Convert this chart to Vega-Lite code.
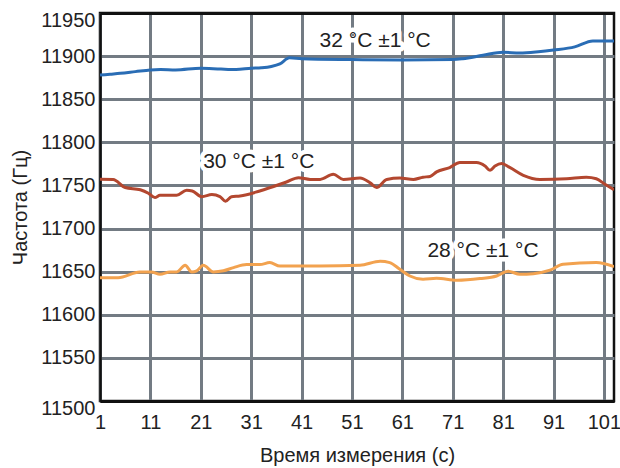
{
  "$schema": "https://vega.github.io/schema/vega-lite/v6.json",
  "width": 514,
  "height": 388,
  "autosize": {"type": "none"},
  "padding": {"left": 100, "top": 13, "right": 6, "bottom": 67},
  "background": "white",
  "config": {
    "font": "Liberation Sans",
    "view": {"stroke": "#111111", "strokeWidth": 2.5},
    "axis": {
      "gridColor": "#737b83",
      "gridWidth": 3,
      "gridOpacity": 1,
      "domainColor": "#111111",
      "domainWidth": 2.5,
      "ticks": false,
      "labelFont": "Liberation Sans",
      "labelFontSize": 20,
      "labelColor": "#222222",
      "titleFont": "Liberation Sans",
      "titleFontSize": 20,
      "titleFontWeight": "normal",
      "titleColor": "#222222"
    }
  },
  "datasets": {
    "lines": [
      {"t": 1, "f": 11878, "s": "32"},
      {"t": 3, "f": 11879, "s": "32"},
      {"t": 5, "f": 11880, "s": "32"},
      {"t": 8, "f": 11882, "s": "32"},
      {"t": 11, "f": 11884, "s": "32"},
      {"t": 13, "f": 11884.5, "s": "32"},
      {"t": 16, "f": 11884, "s": "32"},
      {"t": 21, "f": 11886, "s": "32"},
      {"t": 25, "f": 11885, "s": "32"},
      {"t": 28, "f": 11884.5, "s": "32"},
      {"t": 31, "f": 11886, "s": "32"},
      {"t": 33, "f": 11886.5, "s": "32"},
      {"t": 35, "f": 11888, "s": "32"},
      {"t": 36.7, "f": 11891, "s": "32"},
      {"t": 38.6, "f": 11898, "s": "32"},
      {"t": 41, "f": 11897, "s": "32"},
      {"t": 51, "f": 11896, "s": "32"},
      {"t": 61, "f": 11895.5, "s": "32"},
      {"t": 71, "f": 11896, "s": "32"},
      {"t": 73, "f": 11897, "s": "32"},
      {"t": 77, "f": 11901, "s": "32"},
      {"t": 81, "f": 11904.5, "s": "32"},
      {"t": 84.3, "f": 11903.5, "s": "32"},
      {"t": 88, "f": 11905, "s": "32"},
      {"t": 91, "f": 11907, "s": "32"},
      {"t": 95.2, "f": 11910.7, "s": "32"},
      {"t": 98.8, "f": 11917.6, "s": "32"},
      {"t": 103, "f": 11917.6, "s": "32"},

      {"t": 1, "f": 11757.2, "s": "30"},
      {"t": 3.6, "f": 11757, "s": "30"},
      {"t": 6, "f": 11747.6, "s": "30"},
      {"t": 9, "f": 11745, "s": "30"},
      {"t": 10.6, "f": 11741, "s": "30"},
      {"t": 11.9, "f": 11736, "s": "30"},
      {"t": 12.9, "f": 11738.6, "s": "30"},
      {"t": 16.2, "f": 11738.6, "s": "30"},
      {"t": 18.2, "f": 11744.4, "s": "30"},
      {"t": 19.3, "f": 11743.6, "s": "30"},
      {"t": 21.2, "f": 11737, "s": "30"},
      {"t": 23.2, "f": 11739.4, "s": "30"},
      {"t": 24.8, "f": 11737, "s": "30"},
      {"t": 25.9, "f": 11731.7, "s": "30"},
      {"t": 27.1, "f": 11737, "s": "30"},
      {"t": 28.8, "f": 11737.8, "s": "30"},
      {"t": 32.7, "f": 11743.6, "s": "30"},
      {"t": 38, "f": 11754, "s": "30"},
      {"t": 40.4, "f": 11759, "s": "30"},
      {"t": 42.7, "f": 11757, "s": "30"},
      {"t": 44.7, "f": 11757, "s": "30"},
      {"t": 47.3, "f": 11763, "s": "30"},
      {"t": 49.3, "f": 11757, "s": "30"},
      {"t": 52.6, "f": 11758.6, "s": "30"},
      {"t": 54.6, "f": 11753, "s": "30"},
      {"t": 55.9, "f": 11747.6, "s": "30"},
      {"t": 57.9, "f": 11757, "s": "30"},
      {"t": 60.5, "f": 11758.6, "s": "30"},
      {"t": 63.2, "f": 11757, "s": "30"},
      {"t": 65.1, "f": 11759.6, "s": "30"},
      {"t": 66.5, "f": 11760.4, "s": "30"},
      {"t": 67.8, "f": 11765.7, "s": "30"},
      {"t": 70.4, "f": 11770.8, "s": "30"},
      {"t": 72.4, "f": 11776.6, "s": "30"},
      {"t": 75.7, "f": 11776.6, "s": "30"},
      {"t": 77.4, "f": 11772.6, "s": "30"},
      {"t": 78.4, "f": 11767.6, "s": "30"},
      {"t": 79.4, "f": 11772.6, "s": "30"},
      {"t": 80.7, "f": 11775.4, "s": "30"},
      {"t": 82.3, "f": 11771, "s": "30"},
      {"t": 85, "f": 11761.8, "s": "30"},
      {"t": 88.3, "f": 11757, "s": "30"},
      {"t": 93.6, "f": 11757.8, "s": "30"},
      {"t": 97.5, "f": 11759.6, "s": "30"},
      {"t": 99.5, "f": 11757.8, "s": "30"},
      {"t": 101.2, "f": 11751.4, "s": "30"},
      {"t": 103, "f": 11745, "s": "30"},

      {"t": 1, "f": 11643, "s": "28"},
      {"t": 4.6, "f": 11643, "s": "28"},
      {"t": 8.9, "f": 11649.7, "s": "28"},
      {"t": 11.2, "f": 11649.7, "s": "28"},
      {"t": 12.9, "f": 11647, "s": "28"},
      {"t": 14.9, "f": 11649.7, "s": "28"},
      {"t": 16.2, "f": 11649.7, "s": "28"},
      {"t": 17.9, "f": 11657.4, "s": "28"},
      {"t": 19.2, "f": 11649.7, "s": "28"},
      {"t": 20.2, "f": 11651, "s": "28"},
      {"t": 21.5, "f": 11657.4, "s": "28"},
      {"t": 23.5, "f": 11649.7, "s": "28"},
      {"t": 25.5, "f": 11651, "s": "28"},
      {"t": 27.5, "f": 11654.7, "s": "28"},
      {"t": 30.1, "f": 11658.2, "s": "28"},
      {"t": 32.7, "f": 11658.2, "s": "28"},
      {"t": 34.7, "f": 11660.5, "s": "28"},
      {"t": 36.7, "f": 11656.6, "s": "28"},
      {"t": 44.6, "f": 11656.6, "s": "28"},
      {"t": 52.6, "f": 11657.4, "s": "28"},
      {"t": 56.6, "f": 11662, "s": "28"},
      {"t": 58.5, "f": 11660.5, "s": "28"},
      {"t": 60.5, "f": 11652.8, "s": "28"},
      {"t": 62.5, "f": 11645, "s": "28"},
      {"t": 65.1, "f": 11641.2, "s": "28"},
      {"t": 67.8, "f": 11642.3, "s": "28"},
      {"t": 71.8, "f": 11640, "s": "28"},
      {"t": 76.4, "f": 11642, "s": "28"},
      {"t": 79.7, "f": 11645, "s": "28"},
      {"t": 82, "f": 11650.5, "s": "28"},
      {"t": 84.3, "f": 11647, "s": "28"},
      {"t": 87, "f": 11647.7, "s": "28"},
      {"t": 90.3, "f": 11651.7, "s": "28"},
      {"t": 92.9, "f": 11658.6, "s": "28"},
      {"t": 99.5, "f": 11660.5, "s": "28"},
      {"t": 103, "f": 11655.8, "s": "28"}
    ],
    "labels": [
      {"t": 55.6, "f": 11917.5, "label": "32 °C ±1 °C"},
      {"t": 32.5, "f": 11777, "label": "30 °C ±1 °C"},
      {"t": 77, "f": 11674, "label": "28 °C ±1 °C"}
    ]
  },
  "layer": [
    {
      "data": {"name": "lines"},
      "mark": {"type": "line", "strokeWidth": 3, "interpolate": "monotone", "clip": true},
      "encoding": {
        "x": {
          "field": "t", "type": "quantitative",
          "scale": {"domain": [1, 103], "nice": false, "zero": false},
          "axis": {
            "values": [1, 11, 21, 31, 41, 51, 61, 71, 81, 91, 101],
            "format": "d",
            "title": "Время измерения (с)",
            "labelPadding": 11,
            "titlePadding": 13,
            "labelFlush": false,
            "labelBound": false
          }
        },
        "y": {
          "field": "f", "type": "quantitative",
          "scale": {"domain": [11500, 11950], "nice": false, "zero": false},
          "axis": {
            "values": [11500, 11550, 11600, 11650, 11700, 11750, 11800, 11850, 11900, 11950],
            "format": "d",
            "title": "Частота (Гц)",
            "labelPadding": 5,
            "titlePadding": 10,
            "labelFlush": false,
            "labelOffset": {"condition": {"test": "datum.value == 11950 || datum.value == 11500", "value": 7}, "value": 0},
            "gridColor": {"condition": {"test": "datum.value == 11950 || datum.value == 11500", "value": "#111111"}, "value": "#737b83"}
          }
        },
        "color": {
          "field": "s", "type": "nominal",
          "scale": {"domain": ["32", "30", "28"], "range": ["#2a6db5", "#b3472f", "#f2a24f"]},
          "legend": null
        },
        "detail": {"field": "s"}
      }
    },
    {
      "data": {"name": "labels"},
      "mark": {"type": "text", "font": "Liberation Sans", "fontSize": 21, "stroke": "white", "strokeWidth": 9, "strokeJoin": "round", "fill": "white", "align": "center", "baseline": "middle"},
      "encoding": {
        "x": {"field": "t", "type": "quantitative"},
        "y": {"field": "f", "type": "quantitative"},
        "text": {"field": "label"}
      }
    },
    {
      "data": {"name": "labels"},
      "mark": {"type": "text", "font": "Liberation Sans", "fontSize": 21, "fill": "#222222", "align": "center", "baseline": "middle"},
      "encoding": {
        "x": {"field": "t", "type": "quantitative"},
        "y": {"field": "f", "type": "quantitative"},
        "text": {"field": "label"}
      }
    }
  ]
}
